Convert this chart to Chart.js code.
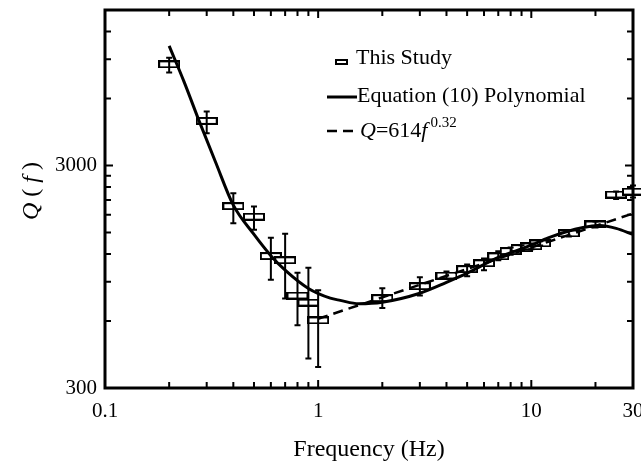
<!DOCTYPE html>
<html>
<head>
<meta charset="utf-8">
<script src="https://cdn.jsdelivr.net/npm/chart.js@4.4.0/dist/chart.umd.min.js"></script>
<style>
  body { margin: 0; background: #fff; }
  #qChart { display: block; }
</style>
</head>
<body>
<canvas id="qChart" width="641" height="464"></canvas>
<script>
// observed Q(f) with error bars
const freq = [0.2, 0.3, 0.4, 0.5, 0.6, 0.7, 0.8, 0.9, 1, 2, 3, 4, 5, 6, 7, 8, 9, 10, 11, 15, 20, 25, 30];
const qObs = [8550, 4760, 1970, 1767, 1175, 1125, 781, 726, 604, 760, 860, 961, 1026, 1091, 1172, 1237, 1276, 1300, 1340, 1486, 1630, 2222, 2290];
const qHigh = [9140, 5240, 2250, 1965, 1422, 1482, 988, 1042, 826, 843, 944, 1001, 1078, 1147, 1236, 1285, 1316, 1340, 1370, 1533, 1682, 2290, 2440];
const qLow = [7850, 4190, 1650, 1545, 920, 758, 575, 407, 373, 686, 781, 926, 953, 1014, 1124, 1190, 1237, 1260, 1310, 1440, 1580, 2120, 2156];

// equation (10) polynomial
const polyFreq = [0.2, 0.235, 0.279, 0.33, 0.4, 0.5, 0.6, 0.7, 0.9, 1.14, 1.27, 1.55, 2, 3, 4, 5, 7, 10, 12, 17.5, 21, 25, 30];
const polyQ = [10350, 7130, 4650, 3110, 1990, 1470, 1180, 1015, 840, 760, 743, 718, 729, 800, 895, 984, 1159, 1315, 1420, 1580, 1613, 1566, 1470];

// Q = 614 f^0.32 (straight on log-log, end points)
const fitFreq = [1, 30];
const fitQ = [614, 1826];

// axis ticks
const xTicks = [0.1, 0.2, 0.3, 0.4, 0.5, 0.6, 0.7, 0.8, 0.9, 1, 2, 3, 4, 5, 6, 7, 8, 9, 10, 20, 30];
const xLabels = { 0.1: "0.1", 1: "1", 10: "10", 30: "30" };
const yTicks = [300, 600, 900, 1200, 1500, 1800, 2100, 2400, 2700, 3000, 6000, 9000, 12000, 15000];
const yLabels = { 300: "300", 3000: "3000" };

const FONT = "'Liberation Serif', 'Times New Roman', serif";

// open rectangle marker
const marker = document.createElement("canvas");
marker.width = 22;
marker.height = 8;
const mctx = marker.getContext("2d");
mctx.fillStyle = "#fff";
mctx.fillRect(1, 1, 20, 6);
mctx.strokeStyle = "#000";
mctx.lineWidth = 2;
mctx.strokeRect(1, 1, 20, 6);

const toXY = (xs, ys) => xs.map((x, i) => ({ x: x, y: ys[i] }));

// frame, inward ticks, error bars, legend, y title
const decorations = {
  id: "decorations",
  afterDatasetsDraw(chart) {
    const { ctx, scales } = chart;
    const xs = scales.x, ys = scales.y;
    ctx.save();
    ctx.strokeStyle = "#000";
    ctx.lineWidth = 2;
    for (let i = 0; i < freq.length; i++) {
      const px = xs.getPixelForValue(freq[i]);
      const top = ys.getPixelForValue(qHigh[i]);
      const bot = ys.getPixelForValue(qLow[i]);
      ctx.beginPath();
      ctx.moveTo(px, top);
      ctx.lineTo(px, bot);
      ctx.moveTo(px - 3, top);
      ctx.lineTo(px + 3, top);
      ctx.moveTo(px - 3, bot);
      ctx.lineTo(px + 3, bot);
      ctx.stroke();
    }
    ctx.restore();
  },
  afterDraw(chart) {
    const { ctx, chartArea: a, scales } = chart;
    ctx.save();
    ctx.strokeStyle = "#000";
    ctx.fillStyle = "#000";

    // inward ticks
    ctx.lineWidth = 2;
    ctx.beginPath();
    xTicks.forEach(v => {
      const px = scales.x.getPixelForValue(v);
      const len = xLabels[v] ? 8 : 6;
      ctx.moveTo(px, a.bottom);
      ctx.lineTo(px, a.bottom - len);
      ctx.moveTo(px, a.top);
      ctx.lineTo(px, a.top + len);
    });
    yTicks.forEach(v => {
      const py = scales.y.getPixelForValue(v);
      const len = yLabels[v] ? 8 : 6;
      ctx.moveTo(a.left, py);
      ctx.lineTo(a.left + len, py);
      ctx.moveTo(a.right, py);
      ctx.lineTo(a.right - len, py);
    });
    ctx.stroke();

    // frame
    ctx.lineWidth = 3;
    ctx.strokeRect(a.left, a.top, a.right - a.left, a.bottom - a.top);

    // legend
    ctx.textBaseline = "alphabetic";
    ctx.textAlign = "left";
    ctx.font = "22px " + FONT;
    ctx.lineWidth = 2;
    ctx.fillStyle = "#fff";
    ctx.fillRect(336, 60, 11, 4);
    ctx.strokeRect(336, 60, 11, 4);
    ctx.fillStyle = "#000";
    ctx.fillText("This Study", 356, 64);

    ctx.lineWidth = 3;
    ctx.beginPath();
    ctx.moveTo(327, 97);
    ctx.lineTo(357, 97);
    ctx.stroke();
    ctx.fillText("Equation (10) Polynomial", 357, 102);

    ctx.lineWidth = 2.5;
    ctx.setLineDash([10, 6]);
    ctx.beginPath();
    ctx.moveTo(327, 131);
    ctx.lineTo(358, 131);
    ctx.stroke();
    ctx.setLineDash([]);
    let tx = 360;
    ctx.font = "italic 22px " + FONT;
    ctx.fillText("Q", tx, 137);
    tx += ctx.measureText("Q").width;
    ctx.font = "22px " + FONT;
    ctx.fillText("=614", tx, 137);
    tx += ctx.measureText("=614").width;
    ctx.font = "italic 22px " + FONT;
    ctx.fillText("f", tx, 137);
    tx += ctx.measureText("f").width + 3;
    ctx.font = "15px " + FONT;
    ctx.fillText("0.32", tx, 127);

    // y axis title
    ctx.translate(38, (a.top + a.bottom) / 2 - 8);
    ctx.rotate(-Math.PI / 2);
    const parts = [["Q", true], [" ( ", false], ["f", true], [" )", false]];
    let w = 0;
    parts.forEach(p => {
      ctx.font = (p[1] ? "italic " : "") + "24px " + FONT;
      w += ctx.measureText(p[0]).width;
    });
    let ox = -w / 2;
    parts.forEach(p => {
      ctx.font = (p[1] ? "italic " : "") + "24px " + FONT;
      ctx.fillText(p[0], ox, 0);
      ox += ctx.measureText(p[0]).width;
    });
    ctx.restore();
  }
};

const config = {
  type: "scatter",
  data: {
    datasets: [
      {
        label: "This Study",
        data: toXY(freq, qObs),
        pointStyle: marker,
        pointRadius: 10,
        showLine: false,
        clip: false,
        order: 2,
      },
      {
        label: "Equation (10) Polynomial",
        data: toXY(polyFreq, polyQ),
        showLine: true,
        borderColor: "#000",
        borderWidth: 3,
        pointRadius: 0,
        cubicInterpolationMode: "monotone",
        order: 1,
      },
      {
        label: "Q=614f^0.32",
        data: toXY(fitFreq, fitQ),
        showLine: true,
        borderColor: "#000",
        borderWidth: 2.5,
        borderDash: [10, 6],
        pointRadius: 0,
        order: 0,
      },
    ],
  },
  options: {
    responsive: false,
    animation: false,
    devicePixelRatio: 1,
    layout: { autoPadding: false, padding: { top: 10, right: 8, left: 0, bottom: 0 } },
    plugins: {
      legend: { display: false },
      tooltip: { enabled: false },
    },
    scales: {
      x: {
        type: "logarithmic",
        min: 0.1,
        max: 30,
        grid: { display: false, drawTicks: false },
        border: { display: false },
        afterBuildTicks: (scale) => {
          scale.ticks = xTicks.map(v => ({ value: v }));
        },
        afterFit: (scale) => {
          scale.height = 76;
          scale.paddingLeft = 0;
          scale.paddingRight = 0;
        },
        ticks: {
          autoSkip: false,
          maxRotation: 0,
          padding: 11,
          color: "#000",
          font: { family: FONT, size: 21 },
          callback: (v) => xLabels[v] || "",
        },
        title: {
          display: true,
          text: "Frequency (Hz)",
          color: "#000",
          font: { family: FONT, size: 24 },
          padding: { top: 4, bottom: 0 },
        },
      },
      y: {
        type: "logarithmic",
        min: 300,
        max: 15000,
        grid: { display: false, drawTicks: false },
        border: { display: false },
        afterBuildTicks: (scale) => {
          scale.ticks = yTicks.map(v => ({ value: v }));
        },
        afterFit: (scale) => {
          scale.width = 105;
          scale.paddingTop = 0;
          scale.paddingBottom = 0;
        },
        ticks: {
          autoSkip: false,
          padding: 8,
          color: "#000",
          font: { family: FONT, size: 21 },
          callback: (v) => yLabels[v] || "",
        },
      },
    },
  },
  plugins: [decorations],
};

const qChart = new Chart(document.getElementById("qChart"), config);
</script>
</body>
</html>
